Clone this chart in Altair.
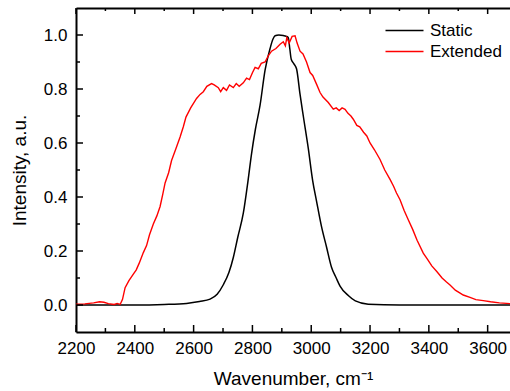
import altair as alt
import pandas as pd

# ---------------- data ----------------
static_wn = [2200, 2400, 2500, 2576, 2620, 2656, 2680, 2701, 2720, 2735,
             2750, 2769, 2785, 2797, 2810, 2826, 2843, 2860, 2870, 2877,
             2890, 2905, 2915, 2922, 2927, 2932, 2940, 2950, 2962, 2973,
             2990, 3005, 3018, 3035, 3052, 3069, 3085, 3098, 3126, 3150,
             3194, 3300, 3676]
static_int = [0.0, 0.0, 0.002, 0.006, 0.013, 0.022, 0.04, 0.075, 0.12, 0.176,
              0.25, 0.34, 0.46, 0.56, 0.65, 0.74, 0.87, 0.95, 0.985, 0.997,
              1.0, 0.998, 0.995, 0.99, 0.95, 0.91, 0.895, 0.875, 0.78, 0.70,
              0.58, 0.46, 0.385, 0.29, 0.215, 0.14, 0.1, 0.07, 0.035, 0.015,
              0.003, 0.0, 0.0]

ext_wn = [2200, 2230, 2260, 2280, 2295, 2310, 2330, 2340, 2350, 2358,
          2367, 2380, 2395, 2405, 2415, 2429, 2440, 2450, 2463, 2475,
          2486, 2495, 2503, 2515, 2525, 2540, 2554, 2565, 2574, 2590,
          2610, 2622, 2633, 2645, 2661, 2670, 2684, 2692, 2701, 2712,
          2722, 2735, 2745, 2755, 2769, 2780, 2790, 2800, 2809, 2820,
          2830, 2843, 2855, 2865, 2880, 2894, 2905, 2912, 2917, 2925,
          2935, 2945, 2952, 2962, 2972, 2984, 2996, 3005, 3018, 3030,
          3040, 3058, 3075, 3085, 3095, 3105, 3115, 3125, 3135, 3143,
          3155, 3165, 3178, 3189, 3200, 3215, 3234, 3250, 3268, 3280,
          3290, 3302, 3316, 3330, 3345, 3360, 3381, 3395, 3410, 3427,
          3445, 3460, 3472, 3490, 3505, 3517, 3540, 3560, 3585, 3610,
          3640, 3676]
ext_int = [0.003, 0.004, 0.008, 0.012, 0.010, 0.005, 0.002, 0.006, 0.002, 0.020,
           0.064, 0.090, 0.114, 0.130, 0.155, 0.194, 0.220, 0.260, 0.300, 0.330,
           0.365, 0.410, 0.452, 0.490, 0.535, 0.580, 0.622, 0.660, 0.696, 0.730,
           0.765, 0.780, 0.790, 0.810, 0.820, 0.815, 0.805, 0.790, 0.805, 0.795,
           0.815, 0.805, 0.820, 0.810, 0.823, 0.840, 0.835, 0.860, 0.880, 0.875,
           0.895, 0.900, 0.925, 0.940, 0.950, 0.966, 0.975, 0.960, 0.990, 0.970,
           0.995, 0.997, 0.970, 0.940, 0.930, 0.900, 0.861, 0.850, 0.818, 0.787,
           0.770, 0.750, 0.725, 0.730, 0.720, 0.730, 0.725, 0.710, 0.700, 0.688,
           0.665, 0.660, 0.640, 0.626, 0.600, 0.575, 0.539, 0.500, 0.465, 0.440,
           0.415, 0.390, 0.350, 0.316, 0.280, 0.240, 0.192, 0.170, 0.145, 0.124,
           0.100, 0.085, 0.074, 0.055, 0.045, 0.037, 0.028, 0.020, 0.016, 0.012,
           0.008, 0.005]

series_names = ["Static", "Extended"]
series_colors = ["black", "red"]

x_major = [2200, 2400, 2600, 2800, 3000, 3200, 3400, 3600]
x_minor = [2300, 2500, 2700, 2900, 3100, 3300, 3500]
y_major = [0.0, 0.2, 0.4, 0.6, 0.8, 1.0]
y_minor = [0.1, 0.3, 0.5, 0.7, 0.9]

# ---------------- build ----------------
W, H = 434, 324
FONT = "Liberation Sans"

df = pd.concat([
    pd.DataFrame({"wn": static_wn, "val": static_int, "series": series_names[0]}),
    pd.DataFrame({"wn": ext_wn, "val": ext_int, "series": series_names[1]}),
], ignore_index=True)

xs = alt.Scale(domain=[2200, 3676], nice=False, zero=False)
ys = alt.Scale(domain=[-0.1, 1.1], nice=False, zero=False)
cs = alt.Scale(domain=series_names, range=series_colors)

legend = alt.Legend(
    title=None, orient="none", legendX=318, legendY=12,
    symbolType="M-2,0H2", symbolSize=361, symbolStrokeWidth=1.5,
    symbolFillColor="transparent",
    labelFontSize=17, labelFont=FONT, labelColor="black", labelOffset=15,
    padding=0, rowPadding=2,
)

x_axis = alt.Axis(
    orient="bottom", values=x_major, format="d", ticks=False, tickSize=0,
    domainWidth=2, domainColor="black", labelFontSize=17, labelFont=FONT,
    labelColor="black", labelPadding=8, labelFlush=False, labelOverlap=False,
    title="Wavenumber, cm⁻¹", titleFontSize=19, titleFont=FONT,
    titleFontWeight="normal", titleColor="black", titlePadding=13, grid=False,
)
y_axis = alt.Axis(
    values=y_major, format=".1f", ticks=False, tickSize=0,
    domainWidth=2, domainColor="black", labelFontSize=17, labelFont=FONT,
    labelColor="black", labelPadding=9, labelFlush=False, labelOverlap=False,
    title="Intensity, a.u.", titleFontSize=19, titleFont=FONT,
    titleFontWeight="normal", titleColor="black", titlePadding=14, grid=False,
)

static_line = alt.Chart(df).transform_filter(
    alt.datum.series == "Static"
).mark_line(strokeWidth=1.5, interpolate="monotone", clip=True).encode(
    x=alt.X("wn:Q", scale=xs, axis=x_axis),
    y=alt.Y("val:Q", scale=ys, axis=y_axis),
    color=alt.Color("series:N", scale=cs, legend=legend),
)
ext_line = alt.Chart(df).transform_filter(
    alt.datum.series == "Extended"
).mark_line(strokeWidth=1.4, clip=True).encode(
    x=alt.X("wn:Q", scale=xs, axis=None),
    y=alt.Y("val:Q", scale=ys, axis=None),
    color=alt.Color("series:N", scale=cs, legend=legend),
)

xmaj = pd.DataFrame({"t": x_major})
xmin = pd.DataFrame({"t": x_minor})
ymaj = pd.DataFrame({"t": y_major})
ymin = pd.DataFrame({"t": y_minor})

top_axis = alt.Axis(orient="top", labels=False, ticks=False, tickSize=0,
                    title=None, domainWidth=2, domainColor="black", grid=False)

tick_style = dict(color="black", strokeWidth=1.5)
top_major = alt.Chart(xmaj).mark_rule(**tick_style).encode(
    x=alt.X("t:Q", scale=xs, axis=top_axis), y=alt.value(0), y2=alt.value(6))
top_minor = alt.Chart(xmin).mark_rule(**tick_style).encode(
    x=alt.X("t:Q", scale=xs, axis=None), y=alt.value(0), y2=alt.value(3))
bot_major = alt.Chart(xmaj).mark_rule(**tick_style).encode(
    x=alt.X("t:Q", scale=xs, axis=None), y=alt.value(H), y2=alt.value(H - 7))
bot_minor = alt.Chart(xmin).mark_rule(**tick_style).encode(
    x=alt.X("t:Q", scale=xs, axis=None), y=alt.value(H), y2=alt.value(H - 4))
left_major = alt.Chart(ymaj).mark_rule(**tick_style).encode(
    y=alt.Y("t:Q", scale=ys, axis=None), x=alt.value(0), x2=alt.value(7))
left_minor = alt.Chart(ymin).mark_rule(**tick_style).encode(
    y=alt.Y("t:Q", scale=ys, axis=None), x=alt.value(0), x2=alt.value(4))

chart = alt.layer(
    static_line, ext_line, top_major, top_minor, bot_major, bot_minor,
    left_major, left_minor,
).resolve_axis(x="independent", y="independent").properties(
    width=W, height=H, autosize="none",
    padding={"left": 76, "top": 8, "right": 0, "bottom": 59},
).configure_view(stroke=None).configure(font=FONT, background="white")

chart.save("out.html", embed_options={"renderer": "svg", "actions": False})
